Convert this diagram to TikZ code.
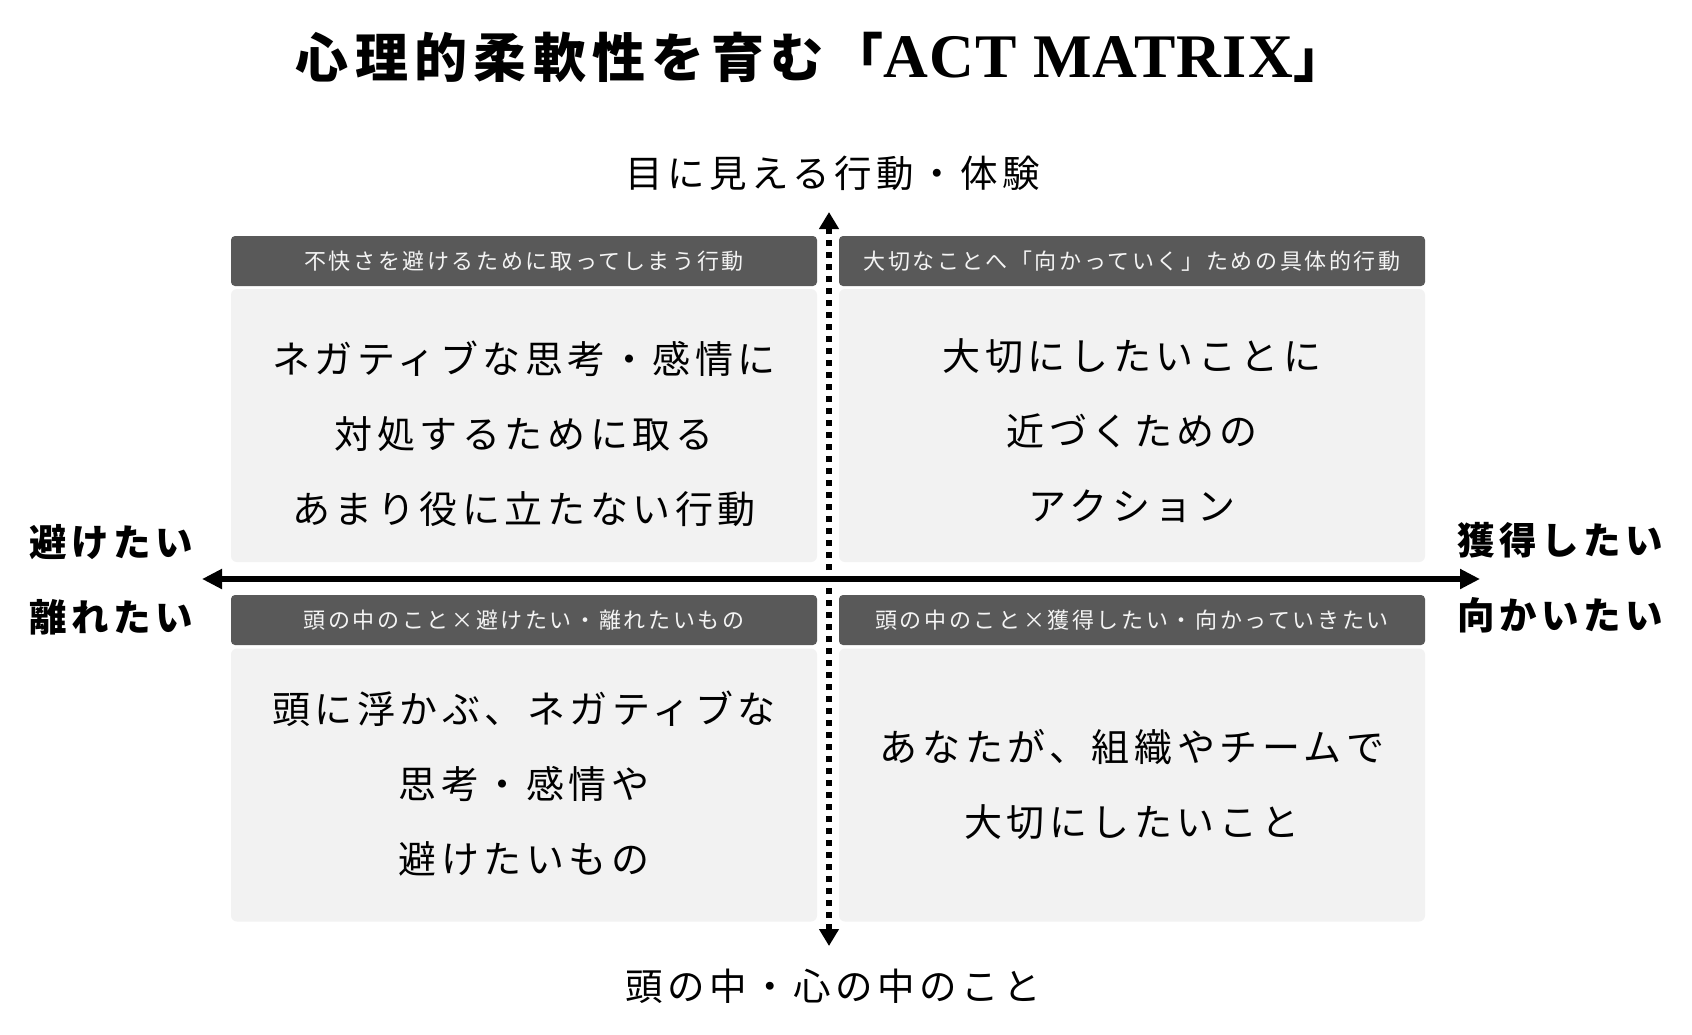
\documentclass[tikz,border=0pt]{standalone}
\usepackage{fontspec}
\setmainfont{Noto Sans CJK JP}[LetterSpace=12]
\newfontfamily\latinserif{Liberation Serif}[LetterSpace=2]
\usetikzlibrary{arrows.meta}
\definecolor{hdrfill}{HTML}{595959}
\definecolor{bodyfill}{HTML}{F2F2F2}
\definecolor{hdrtext}{HTML}{F4F4F4}
\begin{document}
\begin{tikzpicture}[x=1pt,y=-1pt,
  hdrbox/.style={fill=hdrfill, rounded corners=4pt, minimum width=586pt, minimum height=50pt, inner sep=0pt,
    text=hdrtext, font=\fontsize{22}{26}\selectfont},
  bodybox/.style={fill=bodyfill, rounded corners=6pt, minimum width=586pt, minimum height=273pt, inner sep=0pt},
  bodytext/.style={align=center, inner sep=0pt, font=\fontsize{38}{75}\selectfont},
  sidelabel/.style={align=center, inner sep=0pt, font=\bfseries\fontsize{37.5}{75}\selectfont},
  axislabel/.style={inner sep=0pt, font=\fontsize{37.5}{44}\selectfont},
  mainaxis/.style={line width=6pt, {Triangle[length=20pt,width=19pt]}-{Triangle[length=20pt,width=19pt]}},
  dotaxis/.style={line width=6pt, dash pattern=on 6pt off 6pt, {Triangle[length=17pt,width=19pt]}-{Triangle[length=17pt,width=19pt]}}
]
\useasboundingbox (0,0) rectangle (1692,1034);
\fill[white] (0,0) rectangle (1692,1034);

% title
\node[inner sep=0pt] (title) at (821,57)
  {\bfseries\fontsize{53}{60}\selectfont 心理的柔軟性を育む「{\latinserif\bfseries\fontsize{62}{60}\selectfont ACT MATRIX}」};

% axis labels
\node[axislabel] (toplabel) at (833,173) {目に見える行動・体験};
\node[axislabel] (botlabel) at (833,986) {頭の中・心の中のこと};
\node[sidelabel] (left1) at (111,542) {避けたい};
\node[sidelabel] (left2) at (111,617) {離れたい};
\node[sidelabel] (right1) at (1560,540) {獲得したい};
\node[sidelabel] (right2) at (1560,615) {向かいたい};

% quadrants: top-left
\node[hdrbox] (tlh) at (524,261) {不快さを避けるために取ってしまう行動};
\node[bodybox] (tlb) at (524,425.5) {};
\node[bodytext] (tlt) at (524,434) {ネガティブな思考・感情に\\対処するために取る\\あまり役に立たない行動};

% top-right
\node[hdrbox] (trh) at (1132,261) {大切なことへ「向かっていく」ための具体的行動};
\node[bodybox] (trb) at (1132,425.5) {};
\node[bodytext] (trt) at (1132,431) {大切にしたいことに\\近づくための\\アクション};

% bottom-left
\node[hdrbox] (blh) at (524,620) {頭の中のこと×避けたい・離れたいもの};
\node[bodybox] (blb) at (524,785) {};
\node[bodytext] (blt) at (524,784) {頭に浮かぶ、ネガティブな\\思考・感情や\\避けたいもの};

% bottom-right
\node[hdrbox] (brh) at (1132,620) {頭の中のこと×獲得したい・向かっていきたい};
\node[bodybox] (brb) at (1132,785) {};
\node[bodytext] (brt) at (1132,785) {あなたが、組織やチームで\\大切にしたいこと};

% axes
\coordinate (vt) at (829,212);
\coordinate (vb) at (829,946);
\coordinate (hl) at (202,579);
\coordinate (hr) at (1480,579);
\draw[mainaxis] (hl) -- (hr);
\draw[dotaxis] (vb) -- (vt);
\end{tikzpicture}
\end{document}
